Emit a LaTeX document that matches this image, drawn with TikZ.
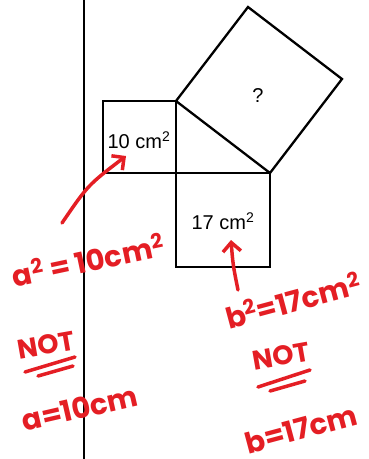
\documentclass[tikz,border=0pt]{standalone}
\usepackage{fontspec}
\setmainfont{Liberation Sans}
\newfontfamily\handfont{Poppins}
\usetikzlibrary{arrows.meta,positioning,calc}
\definecolor{penred}{RGB}{228,30,36}

\begin{document}
\begin{tikzpicture}[x=1pt, y=-1pt,
    sq/.style={draw=black, line width=2.3pt, line join=miter},
    area/.style={font=\fontsize{20}{24}\selectfont, inner sep=0pt},
    hand/.style={text=penred, font=\handfont\bfseries\fontsize{29}{34}\selectfont, inner sep=0pt},
    pen/.style={draw=penred, line width=3.5pt, line cap=round, line join=round},
    penarrow/.style={pen, -{Straight Barb[length=9pt, width=18pt]}}
]
\useasboundingbox (0,0) rectangle (368,459);

% Margin line
\draw[line width=2pt] (84,0) -- (84,459);

% Triangle corners
\coordinate (C) at (176,173);
\coordinate (A) at (176,101);
\coordinate (B) at (270,173);

% Squares on the sides
\draw[sq] (103,101) rectangle (C);
\draw[sq] (C) rectangle (270,267);
\draw[sq] (A) -- (B) -- (342,79) -- (248,7) -- cycle;

% Areas
\node[area] (aarea) at (139,140) {10 cm\textsuperscript{2}};
\node[area] (barea) at (223,221) {17 cm\textsuperscript{2}};
\node[area] (carea) at (258,96) {?};

% Handwritten notes
\node[hand, rotate=12] (asq) at (88,260) {a\textsuperscript{2} = 10cm\textsuperscript{2}};
\node[hand, rotate=15] (bsq) at (293,300) {b\textsuperscript{2}=17cm\textsuperscript{2}};

\coordinate (atail) at (62,223);
\coordinate (atip) at (126,156);
\draw[penarrow] (atail) .. controls (88,185) .. (atip);

\coordinate (btail) at (238,290);
\coordinate (btip) at (231,240);
\draw[penarrow] (btail) .. controls (233,265) .. (btip);

\node[hand, font=\handfont\bfseries\fontsize{27}{30}\selectfont, rotate=10] (nota) at (46,345) {NOT};
\draw[pen] (25,372) -- (75,357);
\draw[pen] (38,376) -- (73,366);
\node[hand, rotate=13] (aval) at (80,408) {a=10cm};

\node[hand, font=\handfont\bfseries\fontsize{27}{30}\selectfont, rotate=10] (notb) at (281,356) {NOT};
\draw[pen] (258,387) -- (310,370);
\draw[pen] (270,391) -- (305,381);
\node[hand, rotate=15] (bval) at (301,429) {b=17cm};

\end{tikzpicture}
\end{document}
